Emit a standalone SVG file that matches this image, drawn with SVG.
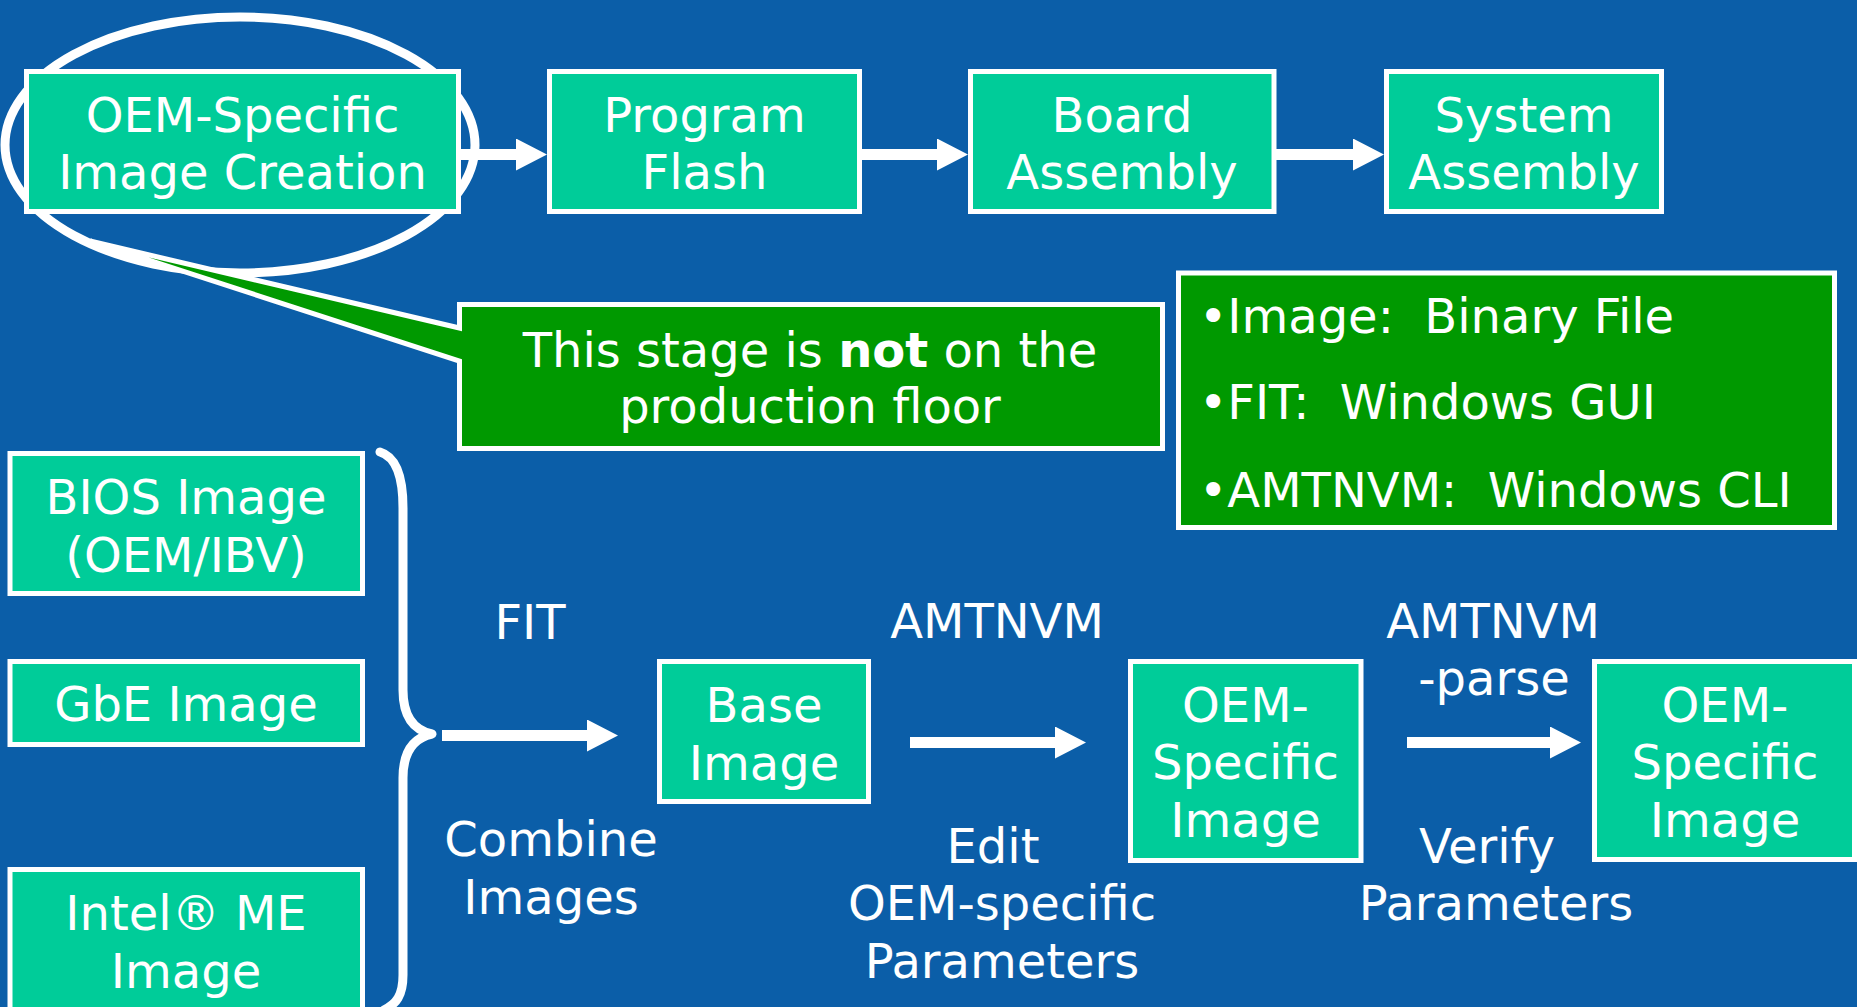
<svg xmlns="http://www.w3.org/2000/svg" width="1857" height="1007" viewBox="0 0 1857 1007">
  <style>
    .box { fill: #00CC99; stroke: #FFFFFF; stroke-width: 5; }
    .note { fill: #009900; stroke: #FFFFFF; stroke-width: 5; stroke-linejoin: miter; }
    .t { font-family: "DejaVu Sans", Verdana, sans-serif; font-size: 48px; fill: #FFFFFF; text-anchor: middle; }
    .tl { font-family: "DejaVu Sans", Verdana, sans-serif; font-size: 48px; fill: #FFFFFF; }
    .flow { stroke: #FFFFFF; stroke-width: 11; fill: none; marker-end: url(#ah); }
    .brace { stroke: #FFFFFF; stroke-width: 9; fill: none; stroke-linecap: round; stroke-linejoin: round; }
  </style>
  <defs>
    <marker id="ah" markerUnits="userSpaceOnUse" markerWidth="31" markerHeight="32" refX="1" refY="16" orient="auto">
      <path d="M0,0 L31,16 L0,32 Z" fill="#FFFFFF"/>
    </marker>
  </defs>

  <rect x="0" y="0" width="1857" height="1007" fill="#0B5EA8"/>

  <!-- highlight ring round the first stage -->
  <ellipse id="highlight" cx="240" cy="145" rx="235" ry="128" fill="none" stroke="#FFFFFF" stroke-width="9"/>

  <!-- production line -->
  <g id="oem-image-creation">
    <rect class="box" x="26.5" y="71.5" width="432" height="140"/>
    <text class="t" x="242.5" y="132">OEM-Specific</text>
    <text class="t" x="242.5" y="189">Image Creation</text>
  </g>
  <g id="program-flash">
    <rect class="box" x="549.5" y="71.5" width="310" height="140"/>
    <text class="t" x="704.5" y="132">Program</text>
    <text class="t" x="704.5" y="189">Flash</text>
  </g>
  <g id="board-assembly">
    <rect class="box" x="970.5" y="71.5" width="303.5" height="140"/>
    <text class="t" x="1122" y="132">Board</text>
    <text class="t" x="1122" y="189">Assembly</text>
  </g>
  <g id="system-assembly">
    <rect class="box" x="1386.5" y="71.5" width="275" height="140"/>
    <text class="t" x="1524" y="132">System</text>
    <text class="t" x="1524" y="189">Assembly</text>
  </g>

  <!-- callout pointing at the first stage -->
  <g id="callout">
    <path class="note" d="M90,241 L459.5,328 L459.5,304.5 L1162.5,304.5 L1162.5,448.5 L459.5,448.5 L459.5,361 Z"/>
    <text class="t" x="810" y="367">This stage is <tspan font-weight="bold">not</tspan> on the</text>
    <text class="t" x="810" y="423">production floor</text>
  </g>

  <!-- tool summary -->
  <g id="tools">
    <rect class="note" x="1178.5" y="273" width="656" height="254.5"/>
    <text class="tl" x="1199" y="333">•Image:&#160; Binary File</text>
    <text class="tl" x="1199" y="419">•FIT:&#160; Windows GUI</text>
    <text class="tl" x="1199" y="507">•AMTNVM:&#160; Windows CLI</text>
  </g>

  <!-- input images -->
  <g id="bios-image">
    <rect class="box" x="10" y="453.5" width="352.5" height="140"/>
    <text class="t" x="186" y="514">BIOS Image</text>
    <text class="t" x="186" y="572">(OEM/IBV)</text>
  </g>
  <g id="gbe-image">
    <rect class="box" x="10" y="661.5" width="352.5" height="83"/>
    <text class="t" x="186" y="721">GbE Image</text>
  </g>
  <g id="me-image">
    <rect class="box" x="10" y="869.5" width="352.5" height="170"/>
    <text class="t" x="186" y="930">Intel® ME</text>
    <text class="t" x="186" y="988">Image</text>
  </g>

  <!-- build chain -->
  <g id="base-image">
    <rect class="box" x="659.5" y="661.5" width="209" height="140"/>
    <text class="t" x="764" y="722">Base</text>
    <text class="t" x="764" y="780">Image</text>
  </g>
  <g id="oem-image">
    <rect class="box" x="1130.5" y="661.5" width="230.5" height="199"/>
    <text class="t" x="1245.5" y="722">OEM-</text>
    <text class="t" x="1245.5" y="779">Specific</text>
    <text class="t" x="1245.5" y="837">Image</text>
  </g>
  <g id="oem-image-verified">
    <rect class="box" x="1594.5" y="661.5" width="260" height="198"/>
    <text class="t" x="1725" y="722">OEM-</text>
    <text class="t" x="1725" y="779">Specific</text>
    <text class="t" x="1725" y="837">Image</text>
  </g>

  <!-- step labels -->
  <g id="labels">
    <text class="t" x="530" y="639">FIT</text>
    <text class="t" x="551" y="856">Combine</text>
    <text class="t" x="551" y="914">Images</text>
    <text class="t" x="997" y="638">AMTNVM</text>
    <text class="t" x="993" y="863">Edit</text>
    <text class="t" x="1002" y="920">OEM-specific</text>
    <text class="t" x="1002" y="978">Parameters</text>
    <text class="t" x="1493" y="638">AMTNVM</text>
    <text class="t" x="1494" y="695">-parse</text>
    <text class="t" x="1487" y="863">Verify</text>
    <text class="t" x="1496" y="920">Parameters</text>
  </g>

  <!-- connectors -->
  <g id="connectors">
    <line class="flow" x1="459" y1="154.5" x2="517" y2="154.5"/>
    <line class="flow" x1="860" y1="154.5" x2="938" y2="154.5"/>
    <line class="flow" x1="1275" y1="154.5" x2="1354" y2="154.5"/>
    <path class="brace" d="M380,452 C397,457 403,478 403,508 L403,690 C403,716 413,730 432,734 C413,738 403,752 403,778 L403,975 C403,996 396,1004 384,1010"/>
    <line class="flow" x1="442" y1="735.5" x2="588" y2="735.5"/>
    <line class="flow" x1="910" y1="742.5" x2="1056" y2="742.5"/>
    <line class="flow" x1="1407" y1="742.5" x2="1551" y2="742.5"/>
  </g>
</svg>
